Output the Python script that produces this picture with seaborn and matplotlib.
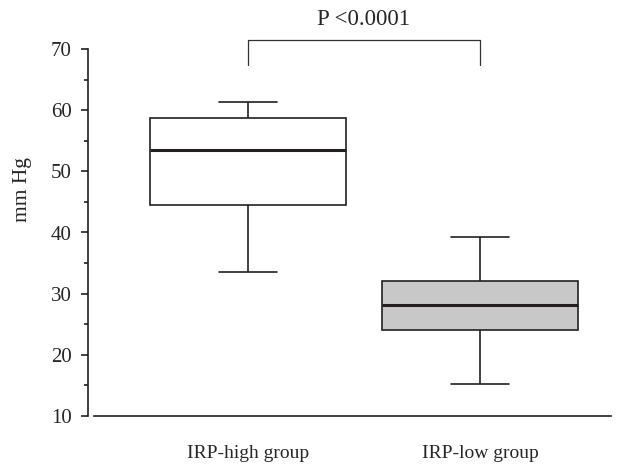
import numpy as np
import pandas as pd
import matplotlib
matplotlib.use('Agg')
from matplotlib import pyplot as plt
import seaborn as sns

# values (min, Q1, median, Q3, max)
groups = ['IRP-high group', 'IRP-low group']
irp_high = [33.5, 44.5, 53.5, 58.7, 61.3]
irp_low = [15.2, 24.1, 28.2, 32.1, 39.3]
p_text = 'P <0.0001'

sns.set_style('white')
plt.rcParams['font.family'] = ['Liberation Serif', 'DejaVu Serif']

frame = pd.DataFrame({
    'group': [groups[0]] * len(irp_high) + [groups[1]] * len(irp_low),
    'mmHg': irp_high + irp_low,
})

edge = '#231f20'
fig = plt.figure(figsize=(6.33, 4.68), dpi=100)
ax = fig.add_axes([94 / 633, 1 - 416 / 468, (611 - 94) / 633, (416 - 49) / 468])
sns.boxplot(data=frame, x='group', y='mmHg', hue='group', palette=['white', '#c8c8c8'],
            whis=(0, 100), width=0.845, linecolor=edge, linewidth=1.2,
            medianprops={'linewidth': 2.2, 'color': edge}, legend=False, ax=ax)

# shorter caps like the reference
for line in ax.lines:
    xd = line.get_xdata()
    yd = line.get_ydata()
    if len(xd) == 2 and yd[0] == yd[1] and yd[0] in (irp_high[0], irp_high[-1], irp_low[0], irp_low[-1]):
        c = (xd[0] + xd[1]) / 2
        line.set_xdata([c - 0.125, c + 0.125])

ax.set_xlim(-0.664, 1.565)
ax.set_ylim(10, 70)
ax.set_yticks(np.arange(10, 71, 10))
ax.set_yticks(np.arange(15, 70, 10), minor=True)
ax.tick_params(axis='y', which='major', direction='out', length=5, width=1.2, color=edge,
               labelsize=15, pad=7, left=True)
ax.tick_params(axis='y', which='minor', direction='out', length=3, width=1.2, color=edge, left=True)
ax.tick_params(axis='x', length=0, labelsize=14, pad=21)
ax.set_xlabel('')
ax.set_ylabel('')
fig.text(23 / 633, 1 - 190 / 468, 'mm Hg', rotation=90, ha='center', va='center', fontsize=15.5)

sns.despine(ax=ax)
ax.spines['left'].set_position(('outward', 4))
for s in ['left', 'bottom']:
    ax.spines[s].set_linewidth(1.2)
    ax.spines[s].set_color(edge)

# significance bracket
ax.plot([0, 0, 1, 1], [67.4, 71.5, 71.5, 67.4], color='#333333', linewidth=0.9, clip_on=False)
ax.text(0.5, 74.8, p_text, ha='center', va='center', fontsize=16.5)

fig.savefig('out.png', dpi=100)
